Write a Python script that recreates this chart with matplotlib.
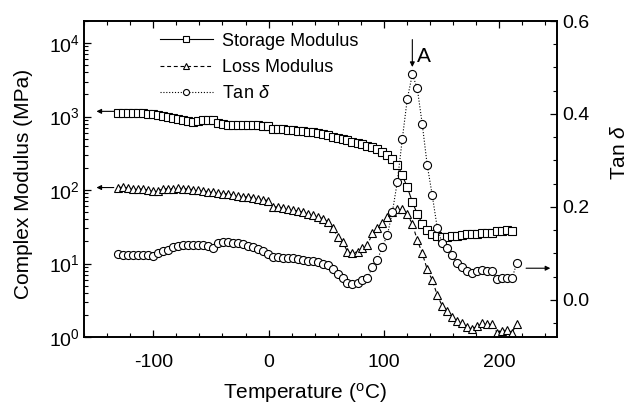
import numpy as np
import matplotlib
matplotlib.use('Agg')
import matplotlib.pyplot as plt
from matplotlib.ticker import MultipleLocator, LogLocator, FixedLocator, FormatStrFormatter, NullFormatter

plt.rcParams['font.family'] = ['Liberation Sans', 'DejaVu Sans']
plt.rcParams['mathtext.fontset'] = 'custom'
plt.rcParams['mathtext.rm'] = 'Liberation Sans'
plt.rcParams['mathtext.it'] = 'Liberation Sans:italic'
plt.rcParams['mathtext.bf'] = 'Liberation Sans:bold'
plt.rcParams['axes.unicode_minus'] = False

temperature = [
    -130.2, -125.9, -121.6, -117.2, -112.9, -108.6, -104.3, -100.0, -95.7, -91.3,
    -87.0, -82.7, -78.4, -74.1, -69.7, -65.4, -61.1, -56.8, -52.5, -48.2,
    -43.8, -39.5, -35.2, -30.9, -26.6, -22.2, -17.9, -13.6, -9.3, -5.0,
    -0.7, 3.7, 8.0, 12.3, 16.6, 20.9, 25.3, 29.6, 33.9, 38.2,
    42.5, 46.8, 51.2, 55.5, 59.8, 64.1, 68.4, 72.7, 77.1, 81.4,
    85.7, 90.0, 94.3, 98.7, 103.0, 107.3, 111.6, 115.9, 120.2, 124.6,
    128.9, 133.2, 137.5, 141.8, 146.2, 150.5, 154.8, 159.1, 163.4, 167.7,
    172.1, 176.4, 180.7, 185.0, 189.3, 193.7, 198.0, 202.3, 206.6, 210.9,
    215.2]

storage_modulus = [
    1133, 1133, 1126, 1116, 1116, 1106, 1098, 1082, 1048, 1032,
    1000, 969, 939, 910, 868, 855, 868, 910, 910, 896,
    829, 790, 778, 778, 766, 766, 766, 766, 766, 755,
    755, 687, 687, 676, 666, 655, 645, 635, 625, 615,
    597, 578, 560, 534, 510, 494, 476, 458, 439, 423,
    403, 385, 365, 334, 297, 262, 220, 160, 109, 69.3,
    47.2, 35.0, 28.6, 25.4, 23.5, 23.2, 23.3, 23.7, 24.0, 24.4,
    25.0, 25.2, 25.6, 25.8, 26.0, 26.2, 27.7, 28.1, 28.6, 27.7,
    np.nan]

loss_modulus = [
    108.2, 109.9, 106.5, 104.8, 103.2, 103.2, 100, 96.9, 98.5, 103.2,
    104.8, 104.8, 106.5, 104.8, 103.2, 101.6, 100, 96.9, 95.4, 93.9,
    91.0, 89.6, 88.2, 85.5, 84.2, 81.6, 80.3, 79.1, 76.6, 74.3,
    72.0, 59.6, 58.7, 56.9, 55.1, 53.4, 51.8, 50.2, 47.9, 45.7,
    42.9, 41.0, 37.0, 30.1, 23.2, 19.8, 14.5, 13.8, 14.5, 16.1,
    17.9, 25.7, 30.1, 35.2, 43.3, 50.7, 54.6, 54.6, 47.1, 34.5,
    20.9, 13.8, 8.34, 5.97, 3.73, 2.64, 2.28, 1.89, 1.65, 1.54,
    1.37, 1.28, 1.41, 1.53, 1.50, 1.50, 1.15, 1.21, 1.26, 1.15,
    1.50]

tan_delta = [
    0.099, 0.097, 0.097, 0.097, 0.097, 0.096, 0.096, 0.095, 0.100, 0.104,
    0.108, 0.113, 0.116, 0.118, 0.119, 0.119, 0.118, 0.117, 0.116, 0.112,
    0.122, 0.125, 0.125, 0.123, 0.122, 0.120, 0.116, 0.113, 0.109, 0.104,
    0.098, 0.093, 0.092, 0.091, 0.090, 0.089, 0.087, 0.086, 0.084, 0.083,
    0.081, 0.078, 0.074, 0.066, 0.055, 0.046, 0.036, 0.034, 0.037, 0.042,
    0.047, 0.071, 0.086, 0.114, 0.140, 0.189, 0.254, 0.346, 0.432, 0.485,
    0.455, 0.378, 0.290, 0.226, 0.155, 0.122, 0.111, 0.097, 0.079, 0.070,
    0.062, 0.057, 0.062, 0.065, 0.062, 0.062, 0.044, 0.046, 0.046, 0.046,
    0.079]

series_labels = ['Storage Modulus', 'Loss Modulus', r'Tan $\delta$']
x_major_ticks = [-100, 0, 100, 200]
right_major_ticks = [0.0, 0.2, 0.4, 0.6]

T = np.array(temperature)
S = np.array(storage_modulus)
L = np.array(loss_modulus)
D = np.array(tan_delta)

fig = plt.figure(figsize=(6.34, 4.05), dpi=100)
ax = fig.add_axes([84 / 634, 1 - 337 / 405, 473 / 634, 316 / 405])
ax2 = ax.twinx()

common = dict(color='black', lw=0.8, mfc='white', mec='black', mew=0.8)
l1, = ax.plot(T, S, ls='-', marker='s', ms=5.2, label=series_labels[0], **common)
l2, = ax.plot(T, L, ls=(0, (3.5, 2.5)), marker='^', ms=5.8, label=series_labels[1], **common)
l3, = ax2.plot(T, D, ls=(0, (1, 1.6)), marker='o', ms=5.8, label=series_labels[2], **common)

# axes limits and ticks
ax.set_xlim(-160, 250)
ax.set_yscale('log')
ax.set_ylim(1, 2e4)
ax2.set_ylim(-0.08, 0.6)

ax.xaxis.set_major_locator(FixedLocator(x_major_ticks))
ax.xaxis.set_minor_locator(MultipleLocator(20))
ax.yaxis.set_major_locator(LogLocator(base=10, numticks=10))
ax.yaxis.set_minor_locator(LogLocator(base=10, subs=np.arange(2, 10), numticks=20))
ax.yaxis.set_minor_formatter(NullFormatter())
ax2.yaxis.set_major_locator(FixedLocator(right_major_ticks))
ax2.yaxis.set_minor_locator(MultipleLocator(0.05))
ax2.yaxis.set_major_formatter(FormatStrFormatter('%.1f'))

ax.tick_params(axis='x', which='both', direction='in', top=True, bottom=True, labelsize=14, pad=12)
ax.tick_params(axis='y', which='both', direction='in', left=True, right=False, labelsize=14, pad=3)
ax2.tick_params(axis='y', which='both', direction='in', right=True, left=False, labelsize=14, pad=4)
for a in (ax, ax2):
    a.tick_params(which='major', length=5, width=0.9)
    a.tick_params(which='minor', length=2.8, width=0.8)
    for sp in a.spines.values():
        sp.set_linewidth(1.2)

ax.set_xlabel(r'Temperature ($^{\mathrm{o}}$C)', fontsize=15)
ax.set_ylabel('Complex Modulus (MPa)', fontsize=15)
ax2.set_ylabel(r'Tan $\delta$', fontsize=15)
ax.xaxis.set_label_coords(0.466, -0.138)
ax.yaxis.set_label_coords(-0.108, 0.484)
ax2.yaxis.set_label_coords(1.112, 0.585)

# indicator arrows
arrow_kw = dict(arrowstyle='-|>', color='black', lw=0.8, mutation_scale=7, shrinkA=0, shrinkB=0)
ax.annotate('', xy=(T[0] - 19, S[0] * 1.04), xytext=(T[0] - 4, S[0] * 1.04), arrowprops=arrow_kw)
ax.annotate('', xy=(T[0] - 19, L[0]), xytext=(T[0] - 4, L[0]), arrowprops=arrow_kw)
ax2.annotate('', xy=(T[-1] + 29, D[-1] - 0.011), xytext=(T[-1] + 8, D[-1] - 0.011), arrowprops=arrow_kw)
ipk = int(np.nanargmax(D))
ax2.annotate('', xy=(T[ipk], D[ipk] + 0.016), xytext=(T[ipk], D[ipk] + 0.075), arrowprops=arrow_kw)
ax2.text(T[ipk] + 10, D[ipk] + 0.038, 'A', fontsize=15, ha='center', va='center')

leg = ax2.legend(handles=[l1, l2, l3], loc='upper left', bbox_to_anchor=(0.161, 0.963),
                 frameon=False, fontsize=13, handlelength=2.9, handletextpad=0.5,
                 labelspacing=0.52, borderpad=0, borderaxespad=0, markerscale=0.75, numpoints=1)

fig.savefig('out.png', dpi=100)
